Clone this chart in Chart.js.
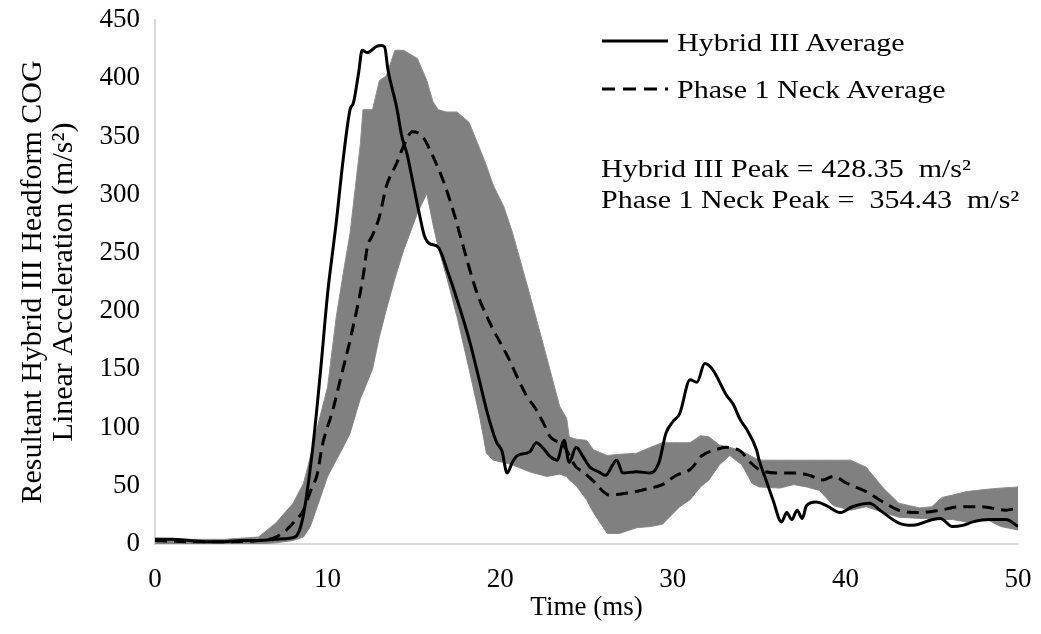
<!DOCTYPE html>
<html>
<head>
<meta charset="utf-8">
<title>Headform COG linear acceleration</title>
<script src="https://cdn.jsdelivr.net/npm/chart.js@4.4.1/dist/chart.umd.min.js"></script>
<style>
  html, body { margin: 0; padding: 0; background: #fff; }
  #wrap { position: relative; width: 1041px; height: 634px; }
  .note {
    position: absolute;
    font-family: 'Liberation Serif', 'Times New Roman', serif;
    font-size: 25px;
    line-height: 25px;
    color: #000;
    white-space: pre;
    transform: scaleX(1.2);
    transform-origin: left center;
  }
  .key { position: absolute; }
</style>
</head>
<body>
<div id="wrap">
  <canvas id="accelChart"></canvas>
  <svg class="key" style="left:600px;top:30px" width="72" height="70">
    <line x1="2" y1="11" x2="68" y2="11" stroke="#000" stroke-width="3"/>
    <line x1="2" y1="59" x2="68" y2="59" stroke="#000" stroke-width="3" stroke-dasharray="13 8"/>
  </svg>
  <div class="note" style="left:677px;top:30px">Hybrid III Average</div>
  <div class="note" style="left:677px;top:77px">Phase 1 Neck Average</div>
  <div class="note" style="left:601px;top:156px">Hybrid III Peak = 428.35  m/s²</div>
  <div class="note" style="left:601px;top:187px">Phase 1 Neck Peak =  354.43  m/s²</div>
</div>
<script>
// values (time in ms, acceleration in m/s^2)
const hybridTime = [0, 1, 2, 3, 4, 5, 6, 7, 7.8, 8.2, 8.6, 9.15, 9.6, 10.0, 10.3, 10.5, 10.9, 11.3, 11.5, 11.8,
    12.0, 12.3, 12.55, 12.8, 13.1, 13.3, 13.5, 14.0, 14.3, 14.6, 14.95, 15.35, 15.6, 15.9, 16.4, 17.0, 17.5, 18.25,
    18.8, 19.3, 19.8, 20.1, 20.4, 20.7, 21.0, 21.7, 22.1, 22.5, 22.9, 23.3, 23.7, 24.0, 24.4, 24.8, 25.2, 25.7,
    26.1, 26.75, 27.1, 27.9, 28.7, 29.2, 29.6, 30.0, 30.4, 31.0, 31.4, 31.85, 32.3, 33.1, 33.5, 33.9, 34.3, 34.85,
    35.0, 35.4, 35.8, 36.3, 36.6, 36.9, 37.2, 37.5, 37.75, 38.3, 38.9, 39.7, 40.4, 41.4, 42.0, 43.1, 43.9, 45.05,
    45.5, 46.2, 46.8, 47.4, 48.35, 49.3, 50];
const hybridAccel = [4, 4, 3, 2, 2, 3, 3, 4, 5, 7, 25, 84, 150, 215, 252, 276, 330, 373, 379, 405,
    424, 422, 424, 427, 428, 427, 407, 375, 350, 335, 310, 281, 265, 258, 255, 232, 210, 173,
    140, 110, 87, 80, 61, 70, 76, 79, 87, 82, 75, 72, 89, 70, 83, 75, 66, 62,
    59, 72, 61, 62, 61, 70, 95, 105, 112, 141, 139, 155, 150, 128, 120, 107, 98, 81,
    72, 55, 38, 19, 27, 21, 29, 22, 33, 36, 33, 27, 32, 35, 29, 18, 16, 21,
    22, 15, 16, 19, 21, 21, 15];

const neckTime = [0, 2, 4, 6, 7, 7.6, 8.0, 8.6, 9.0, 9.4, 9.7, 10.3, 10.8, 11.3, 12.05, 12.3, 12.6, 13.0, 13.4, 14.0,
    14.5, 14.9, 15.5, 16.1, 16.7, 17.3, 17.7, 18.6, 19.4, 20.4, 21.5, 22.1, 22.5, 22.9, 23.3, 23.6, 24.4, 24.8,
    25.4, 26.35, 27.0, 27.5, 28.7, 29.4, 30.2, 31.0, 31.7, 32.5, 33.1, 33.5, 33.9, 34.5, 35.0, 36.0, 37.2, 37.9,
    38.7, 39.3, 40.1, 41.2, 42.2, 43.1, 44.3, 45.5, 46.6, 47.9, 49.3, 50];
const neckAccel = [3, 2, 2, 3, 6, 12, 18, 29, 45, 60, 85, 115, 145, 175, 229, 255, 265, 281, 307, 327,
    345, 354, 350, 333, 312, 285, 264, 218, 190, 162, 128, 115, 104, 92, 88, 86, 66, 62,
    54, 42, 43, 44, 48, 51, 59, 64, 76, 81, 83, 82, 80, 70, 64, 61, 61, 59,
    55, 58, 52, 45, 36, 29, 27, 29, 32, 32, 29, 31];

// grey spread of the Phase 1 neck trials
const bandTime = [0, 2, 4, 6, 7, 8, 8.6, 9.0, 9.4, 10.0, 10.5, 10.9, 11.3, 11.9, 12.05, 12.6, 13.0, 13.4, 13.9, 14.4,
    15.2, 15.75, 16.1, 16.4, 16.9, 17.5, 18.2, 18.8, 19.2, 19.6, 20.2, 20.7, 21.7, 22.7, 23.45, 23.85, 24.0, 24.4,
    25.0, 25.4, 26.2, 26.9, 27.9, 28.7, 29.4, 30.4, 31.0, 31.6, 32.1, 32.7, 33.3, 34.0, 34.6, 35.0, 36.2, 37.0,
    37.75, 38.5, 39.3, 40.3, 41.2, 42.2, 43.1, 44.3, 45.0, 45.6, 46.2, 47.0, 48.2, 49.0, 50];
const bandUpper = [5, 4, 4, 6, 18, 35, 52, 75, 100, 135, 195, 232, 267, 344, 373, 373, 398, 402, 424, 424,
    417, 398, 380, 373, 371, 371, 362, 340, 325, 308, 290, 268, 215, 160, 118, 108, 92, 90,
    89, 81, 76, 77, 78, 83, 87, 87, 87, 93, 92, 85, 83, 80, 75, 72, 72, 72,
    72, 72, 72, 72, 66, 48, 35, 31, 32, 40, 42, 45, 47, 48, 49];
const bandLower = [0, 0, 0, 0, 1, 3, 6, 15, 32, 58, 72, 83, 95, 125, 130, 150, 178, 201, 228, 252,
    284, 301, 275, 255, 229, 195, 150, 110, 78, 72, 70, 68, 62, 58, 60, 58, 55, 50,
    38, 27, 9, 9, 14, 15, 17, 32, 38, 49, 55, 68, 76, 68, 52, 49, 48, 51,
    49, 46, 33, 29, 32, 27, 23, 22, 22, 21, 21, 19, 21, 15, 12];

const xTickValues = [0, 10, 20, 30, 40, 50];
const yTickValues = [0, 50, 100, 150, 200, 250, 300, 350, 400, 450];

const toPoints = (xs, ys) => xs.map((x, i) => ({ x: x, y: ys[i] }));

const serif = "'Liberation Serif', 'Times New Roman', serif";
Chart.defaults.font.family = serif;
Chart.defaults.color = '#000';

new Chart(document.getElementById('accelChart'), {
    type: 'line',
    data: {
        datasets: [
            {
                label: 'Hybrid III Average',
                data: toPoints(hybridTime, hybridAccel),
                borderColor: '#000',
                borderWidth: 3,
                cubicInterpolationMode: 'monotone',
                fill: false
            },
            {
                label: 'Phase 1 Neck Average',
                data: toPoints(neckTime, neckAccel),
                borderColor: '#000',
                borderWidth: 3,
                borderDash: [12, 7],
                cubicInterpolationMode: 'monotone',
                fill: false
            },
            {
                label: 'Phase 1 Neck upper',
                data: toPoints(bandTime, bandUpper),
                borderColor: '#8c8c8c',
                borderWidth: 1,
                backgroundColor: '#808080',
                tension: 0,
                fill: '+1'
            },
            {
                label: 'Phase 1 Neck lower',
                data: toPoints(bandTime, bandLower),
                borderColor: '#8c8c8c',
                borderWidth: 1,
                tension: 0,
                fill: false
            }
        ]
    },
    options: {
        responsive: true,
        maintainAspectRatio: false,
        animation: false,
        layout: { padding: { top: 20, right: 23, bottom: 0, left: 0 } },
        elements: { point: { radius: 0, hoverRadius: 0 } },
        plugins: {
            legend: { display: false },
            tooltip: { enabled: false }
        },
        scales: {
            x: {
                type: 'linear',
                min: 0,
                max: 50,
                afterBuildTicks: (scale) => { scale.ticks = xTickValues.map(v => ({ value: v })); },
                afterFit: (scale) => {
                    scale.height = 90;
                    scale.paddingLeft = 0;
                    scale.paddingRight = 0;
                },
                grid: { display: false, drawTicks: false },
                border: { color: '#d9d9d9', width: 2 },
                ticks: { padding: 20, maxRotation: 0, color: '#000', font: { size: 27 } },
                title: {
                    display: true,
                    text: 'Time (ms)',
                    color: '#000',
                    font: { size: 27 },
                    padding: { top: 0, bottom: 10 }
                }
            },
            y: {
                type: 'linear',
                min: 0,
                max: 450,
                afterBuildTicks: (scale) => { scale.ticks = yTickValues.map(v => ({ value: v })); },
                afterFit: (scale) => {
                    scale.width = 155;
                    scale.paddingTop = 0;
                    scale.paddingBottom = 0;
                },
                grid: { display: false, drawTicks: false },
                border: { color: '#d9d9d9', width: 2 },
                ticks: { padding: 15, color: '#000', font: { size: 27 } },
                title: {
                    display: true,
                    text: ['Resultant Hybrid III Headform COG', 'Linear Acceleration (m/s²)'],
                    color: '#000',
                    font: { size: 30, lineHeight: 1.05 },
                    padding: { top: 17, bottom: 0 }
                }
            }
        }
    }
});
</script>
</body>
</html>
